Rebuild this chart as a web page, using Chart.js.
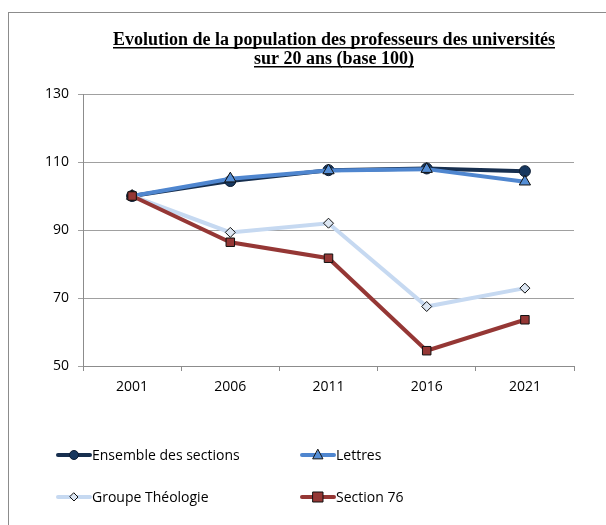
<!DOCTYPE html>
<html>
<head>
<meta charset="utf-8">
<script src="https://cdn.jsdelivr.net/npm/chart.js@4/dist/chart.umd.min.js"></script>
<style>
html,body{margin:0;padding:0;background:#fff;}
#wrap{position:relative;width:606px;height:525px;}
canvas{display:block;}
</style>
</head>
<body>
<div id="wrap"><canvas id="c" width="606" height="525"></canvas></div>
<script>
const years = ['2001', '2006', '2011', '2016', '2021'];
const ensemble = [100, 104.4, 107.6, 108.1, 107.3];
const lettres = [100, 105.1, 107.5, 107.9, 104.2];
const theologie = [100, 89.3, 92.0, 67.5, 72.9];
const section76 = [100, 86.4, 81.7, 54.5, 63.6];
const seriesNames = ['Ensemble des sections', 'Lettres', 'Groupe Théologie', 'Section 76'];
const titleLines = ['Evolution de la population des professeurs des universités', 'sur 20 ans (base 100)'];
const yTicks = [50, 70, 90, 110, 130];

const TXT = "'Open Sans', 'Liberation Sans', sans-serif";

const decor = {
  id: 'decor',
  beforeDraw(chart) {
    const ctx = chart.ctx;
    ctx.save();
    ctx.fillStyle = '#fff';
    ctx.fillRect(0, 0, chart.width, chart.height);
    ctx.strokeStyle = '#8c8c8c';
    ctx.lineWidth = 1;
    ctx.strokeRect(8.5, 12.5, 620, 540);
    ctx.restore();
  },
  afterDraw(chart) {
    const ctx = chart.ctx;
    ctx.save();
    // title
    ctx.font = "bold 18px 'Liberation Serif', 'Times New Roman', serif";
    ctx.fillStyle = '#000';
    ctx.textAlign = 'center';
    ctx.textBaseline = 'alphabetic';
    const cx = 334;
    const bases = [45, 64];
    titleLines.forEach((t, i) => {
      ctx.fillText(t, cx, bases[i]);
      const w = ctx.measureText(t).width;
      ctx.fillRect(Math.round(cx - w / 2), bases[i] + 2, Math.round(w), 1.5);
    });
    // legend
    const pos = [[58, 455], [302, 455], [58, 497], [302, 497]];
    const L = 32;
    ctx.font = "14px " + TXT;
    ctx.textAlign = 'left';
    ctx.textBaseline = 'middle';
    chart.data.datasets.forEach((ds, i) => {
      const [x, y] = pos[i];
      const mx = x + L / 2;
      ctx.strokeStyle = ds.borderColor;
      ctx.lineWidth = ds.borderWidth;
      ctx.lineCap = 'round';
      ctx.beginPath();
      ctx.moveTo(x, y);
      ctx.lineTo(x + L, y);
      ctx.stroke();
      ctx.fillStyle = ds.pointBackgroundColor;
      ctx.strokeStyle = ds.pointBorderColor;
      ctx.lineWidth = ds.pointBorderWidth;
      ctx.beginPath();
      const r = ds.pointRadius - 1;
      if (ds.pointStyle === 'circle') {
        ctx.arc(mx, y, r, 0, Math.PI * 2);
      } else if (ds.pointStyle === 'rect') {
        ctx.rect(mx - r, y - r, 2 * r, 2 * r);
      } else if (ds.pointStyle === 'triangle') {
        ctx.moveTo(mx, y - r);
        ctx.lineTo(mx + r * 0.9, y + r * 0.7);
        ctx.lineTo(mx - r * 0.9, y + r * 0.7);
        ctx.closePath();
      } else if (ds.pointStyle === 'rectRot') {
        ctx.moveTo(mx, y - r);
        ctx.lineTo(mx + r, y);
        ctx.lineTo(mx, y + r);
        ctx.lineTo(mx - r, y);
        ctx.closePath();
      }
      ctx.fill();
      ctx.stroke();
      ctx.fillStyle = '#000';
      ctx.fillText(ds.label, x + L + 2, y + 1);
    });
    ctx.restore();
  }
};

new Chart(document.getElementById('c'), {
  type: 'line',
  data: {
    labels: years,
    datasets: [
      {
        label: seriesNames[0], data: ensemble, order: 4,
        borderColor: '#172f4f', backgroundColor: '#172f4f', borderWidth: 4,
        pointStyle: 'circle', pointRadius: 5.5, pointBackgroundColor: '#17375e',
        pointBorderColor: '#0d1d33', pointBorderWidth: 1
      },
      {
        label: seriesNames[1], data: lettres, order: 3,
        borderColor: '#4f86cf', backgroundColor: '#4f86cf', borderWidth: 4,
        pointStyle: 'triangle', pointRadius: 6.5, pointBackgroundColor: '#558ed5',
        pointBorderColor: '#111', pointBorderWidth: 1
      },
      {
        label: seriesNames[2], data: theologie, order: 2,
        borderColor: '#c6d9f1', backgroundColor: '#c6d9f1', borderWidth: 4,
        pointStyle: 'rectRot', pointRadius: 5, pointBackgroundColor: '#dce6f2',
        pointBorderColor: '#111', pointBorderWidth: 1
      },
      {
        label: seriesNames[3], data: section76, order: 1,
        borderColor: '#953735', backgroundColor: '#953735', borderWidth: 4,
        pointStyle: 'rect', pointRadius: 6, pointBackgroundColor: '#953735',
        pointBorderColor: '#111', pointBorderWidth: 1
      }
    ]
  },
  options: {
    responsive: false,
    animation: false,
    devicePixelRatio: 1,
    layout: { padding: { left: 0, right: 32, top: 94, bottom: 119 } },
    plugins: { legend: { display: false }, title: { display: false }, tooltip: { enabled: false } },
    elements: { line: { tension: 0 } },
    scales: {
      x: {
        offset: true,
        grid: { offset: true, drawOnChartArea: false, color: '#8c8c8c', tickLength: 5, lineWidth: 1 },
        border: { color: '#8c8c8c', width: 1 },
        ticks: { color: '#000', font: { family: TXT, size: 14 }, padding: 8, maxRotation: 0 },
        afterFit(s) { s.height = 40; }
      },
      y: {
        min: 50, max: 130,
        afterBuildTicks(s) { s.ticks = yTicks.map(v => ({ value: v })); },
        grid: { color: '#a0a0a0', tickLength: 5, lineWidth: 1 },
        border: { color: '#8c8c8c', width: 1 },
        ticks: { color: '#000', font: { family: TXT, size: 14 }, padding: 9 },
        afterFit(s) { s.width = 83; }
      }
    }
  },
  plugins: [decor]
});
</script>
</body>
</html>
